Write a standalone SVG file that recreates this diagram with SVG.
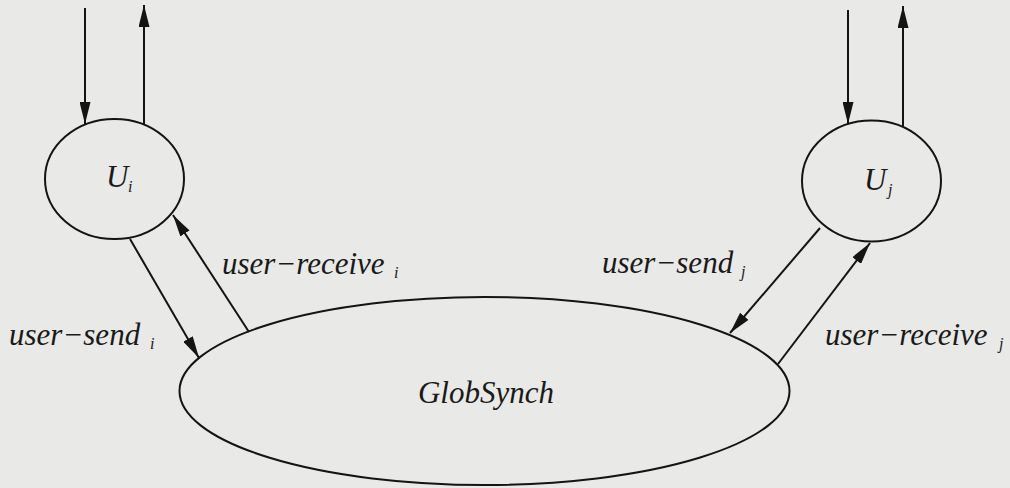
<svg xmlns="http://www.w3.org/2000/svg" width="1010" height="488" viewBox="0 0 1010 488">
<style>
.n{fill:none;stroke:#141414;stroke-width:2}
.c{fill:none;stroke:#141414;stroke-width:2}
.t{font-family:"Liberation Serif","Times New Roman",serif;font-style:italic;fill:#1a1a1a;font-size:31px}
.s{font-size:16px}
</style>
<defs>
<marker id="ah" markerUnits="userSpaceOnUse" markerWidth="22" markerHeight="11" refX="22" refY="5.5" orient="auto" viewBox="0 0 22 11">
<path d="M0,0 L22,5.5 L0,11 Z" fill="#141414"/>
</marker>
</defs>
<rect width="1010" height="488" fill="#e9e9e7"/>
<g id="Ui">
<ellipse class="n" cx="114.5" cy="179" rx="69.5" ry="60"/>
<text class="t" x="106" y="187" font-size="30">U<tspan class="s" x="128" y="192">i</tspan></text>
</g>
<g id="Uj">
<ellipse class="n" cx="871.5" cy="181" rx="69.5" ry="60.5"/>
<text class="t" x="864" y="190" font-size="30">U<tspan class="s" x="888" y="195">j</tspan></text>
</g>
<g id="GlobSynch">
<ellipse class="n" cx="484.5" cy="391" rx="305" ry="94"/>
<text class="t" x="486" y="403" text-anchor="middle">GlobSynch</text>
</g>
<g id="connectors">
<line class="c" x1="85" y1="8" x2="85" y2="124" marker-end="url(#ah)"/>
<line class="c" x1="144" y1="124" x2="144" y2="5" marker-end="url(#ah)"/>
<line class="c" x1="848" y1="10" x2="848" y2="124" marker-end="url(#ah)"/>
<line class="c" x1="903" y1="126" x2="903" y2="6" marker-end="url(#ah)"/>
<line class="c" x1="130" y1="239" x2="199" y2="358" marker-end="url(#ah)"/>
<line class="c" x1="249" y1="332" x2="173" y2="215" marker-end="url(#ah)"/>
<line class="c" x1="820" y1="228" x2="730" y2="333" marker-end="url(#ah)"/>
<line class="c" x1="778" y1="364" x2="870" y2="243" marker-end="url(#ah)"/>
<text class="t" x="9" y="345">user−send<tspan class="s" x="150" y="349">i</tspan></text>
<text class="t" x="222" y="274">user−receive<tspan class="s" x="394" y="278">i</tspan></text>
<text class="t" x="602" y="273">user−send<tspan class="s" x="741" y="277">j</tspan></text>
<text class="t" x="825" y="345">user−receive<tspan class="s" x="999" y="349">j</tspan></text>
</g>
</svg>
